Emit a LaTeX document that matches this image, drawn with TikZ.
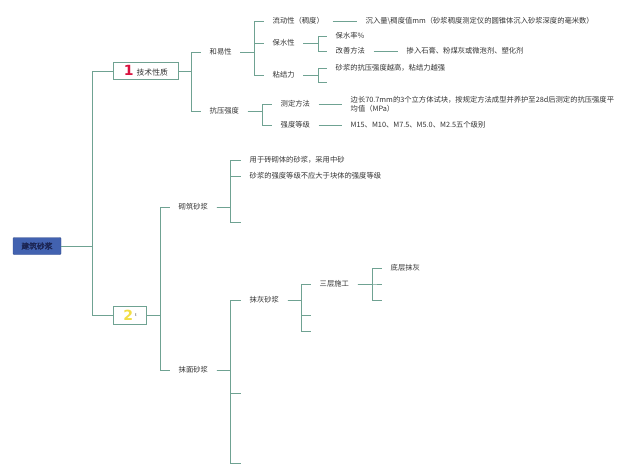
\documentclass[tikz,border=0pt]{standalone}
\usepackage{fontspec}
\setmainfont{Noto Sans CJK SC}[AutoFakeBold=2]
\newfontfamily\numfont{DejaVu Sans}
\usepackage{tikz}
\definecolor{linkgreen}{HTML}{6FA292}
\definecolor{rootblue}{HTML}{4262B0}
\definecolor{rootink}{HTML}{1B2452}
\definecolor{numred}{HTML}{D9133F}
\definecolor{numyellow}{HTML}{F2DE45}
\definecolor{txtgray}{HTML}{333333}

\begin{document}
\begin{tikzpicture}[x=1pt, y=-1pt,
    link/.style={draw=linkgreen, line width=0.9pt},
    leaf/.style={anchor=west, inner xsep=8.5pt, inner ysep=1pt,
      font=\fontsize{7.3}{9}\selectfont, text=txtgray},
    topic/.style={anchor=west, draw=linkgreen, line width=0.8pt, fill=white,
      minimum height=17pt, inner xsep=4pt, font=\fontsize{7.8}{9}\selectfont, text=txtgray}]
      \useasboundingbox (0,0) rectangle (640,476);
      % root and the two main topics
      \node[fill=rootblue, draw=rootblue!80!black, rounded corners=1pt, minimum width=48pt,
        minimum height=17pt, inner sep=1pt, font=\bfseries\fontsize{7.8}{9}\selectfont,
        text=rootink] (root) at (37,246) {建筑砂浆};
      \node[topic, minimum width=65pt] (tech) at (113,71)
        {{\color{numred}\numfont\bfseries\fontsize{14}{14}\selectfont 1}\hspace{3pt}技术性质};
      \node[topic, minimum width=33pt, minimum height=18pt] (form) at (113,315)
        {{\color{numyellow}\numfont\bfseries\fontsize{14}{14}\selectfont 2}\hspace{2pt}\raisebox{4pt}{\fontsize{4}{4}\selectfont t}};
      \draw[link] (root.east) -- ++(31,0) |- (tech.west);
      \draw[link] (root.east) -- ++(31,0) |- (form.west);

      % technical properties
      \node[leaf] (hey) at (201,52) {和易性};
      \node[leaf] (kyqd) at (201,111) {抗压强度};
      \draw[link] (tech.east) -- ++(13,0) |- (hey.west);
      \draw[link] (tech.east) -- ++(13,0) |- (kyqd.west);

      \node[leaf] (ldx) at (264,21) {流动性（稠度）};
      \node[leaf] (bsx) at (264,43) {保水性};
      \node[leaf] (njl) at (264,75) {粘结力};
      \draw[link] (hey.east) -- ++(14,0) |- (ldx.west);
      \draw[link] (hey.east) -- ++(14,0) |- (bsx.west);
      \draw[link] (hey.east) -- ++(14,0) |- (njl.west);

      \node[leaf] (cr) at (357,21) {沉入量\textbackslash 稠度值mm（砂浆稠度测定仪的圆锥体沉入砂浆深度的毫米数）};
      \draw[link] (ldx.east) -- (cr.west);

      \node[leaf] (bsl) at (327,36) {保水率\%};
      \node[leaf] (gsff) at (327,51) {改善方法};
      \draw[link] (bsx.east) -- ++(15,0) |- (bsl.west);
      \draw[link] (bsx.east) -- ++(15,0) |- (gsff.west);
      \node[leaf] (crsg) at (398,51) {掺入石膏、粉煤灰或微泡剂、塑化剂};
      \draw[link] (gsff.east) -- (crsg.west);

      \node[leaf] (kyyg) at (327,68) {砂浆的抗压强度越高，粘结力越强};
      \coordinate (njl2) at (327,82);
      \draw[link] (njl.east) -- ++(15,0) |- (kyyg.west);
      \draw[link] (njl.east) -- ++(15,0) |- (njl2);

      \node[leaf] (cdff) at (272,104) {测定方法};
      \node[leaf] (qddj) at (272,125) {强度等级};
      \draw[link] (kyqd.east) -- ++(15,0) |- (cdff.west);
      \draw[link] (kyqd.east) -- ++(15,0) |- (qddj.west);
      \node[leaf, align=left] (byc) at (342,104)
        {边长70.7mm的3个立方体试块，按规定方法成型并养护至28d后测定的抗压强度平\\均值（MPa）};
      \node[leaf] (m15) at (342,125) {M15、M10、M7.5、M5.0、M2.5五个级别};
      \draw[link] (cdff.east) -- (byc.west);
      \draw[link] (qddj.east) -- (m15.west);

      % kinds of mortar
      \node[leaf] (qzsj) at (170,207) {砌筑砂浆};
      \node[leaf] (mmsj) at (170,370) {抹面砂浆};
      \draw[link] (form.east) -- ++(14,0) |- (qzsj.west);
      \draw[link] (form.east) -- ++(14,0) |- (mmsj.west);

      \node[leaf] (yyzs) at (241,160) {用于砖砌体的砂浆，采用中砂};
      \node[leaf] (bydy) at (241,176) {砂浆的强度等级不应大于块体的强度等级};
      \coordinate (qz3) at (241,222);
      \draw[link] (qzsj.east) -- ++(14,0) |- (yyzs.west);
      \draw[link] (qzsj.east) -- ++(14,0) |- (bydy.west);
      \draw[link] (qzsj.east) -- ++(14,0) |- (qz3);

      \node[leaf] (mhsj) at (241,300) {抹灰砂浆};
      \coordinate (mm2) at (241,393);
      \coordinate (mm3) at (241,463);
      \draw[link] (mmsj.east) -- ++(14,0) |- (mhsj.west);
      \draw[link] (mmsj.east) -- ++(14,0) |- (mm2);
      \draw[link] (mmsj.east) -- ++(14,0) |- (mm3);

      \node[leaf] (scsg) at (311,284) {三层施工};
      \coordinate (mh2) at (311,315);
      \coordinate (mh3) at (311,331);
      \draw[link] (mhsj.east) -- ++(14,0) |- (scsg.west);
      \draw[link] (mhsj.east) -- ++(14,0) |- (mh2);
      \draw[link] (mhsj.east) -- ++(14,0) |- (mh3);

      \node[leaf] (dcmh) at (382,268) {底层抹灰};
      \coordinate (sc2) at (382,284);
      \coordinate (sc3) at (382,300);
      \draw[link] (scsg.east) -- ++(15,0) |- (dcmh.west);
      \draw[link] (scsg.east) -- ++(15,0) |- (sc2);
      \draw[link] (scsg.east) -- ++(15,0) |- (sc3);
    \end{tikzpicture}
\end{document}
